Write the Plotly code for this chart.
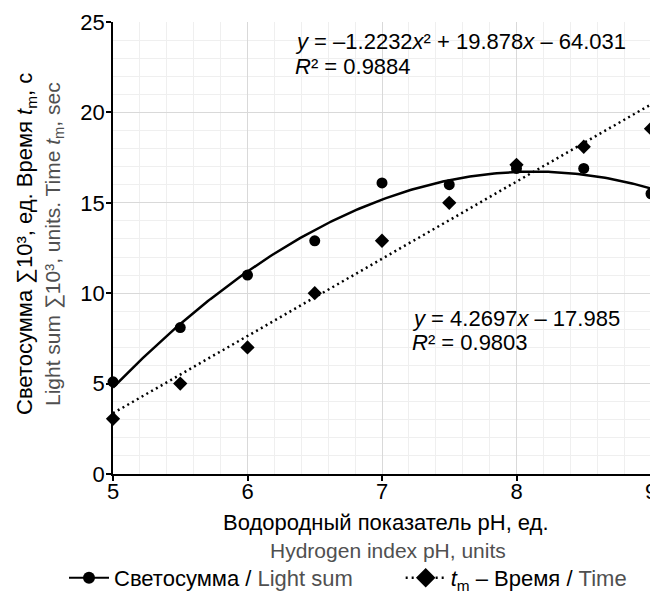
import numpy as np
import plotly.graph_objects as go

# Data
ph = [5, 5.5, 6, 6.5, 7, 7.5, 8, 8.5, 9]
light_sum = [5.1, 8.1, 11.0, 12.9, 16.1, 16.0, 16.9, 16.9, 15.5]
time_tm = [3.05, 5.0, 7.0, 10.0, 12.9, 15.0, 17.1, 18.1, 19.1]

# Trendline coefficients (as printed on the chart)
quad_coef = [-1.2232, 19.878, -64.031]
lin_coef = [4.2697, -17.985]

x_ticks = [5, 6, 7, 8, 9]
y_ticks = [0, 5, 10, 15, 20, 25]

FONT = "Liberation Sans, Arial, sans-serif"
GRAY = "#505050"
NB = "\u00a0"

xf = np.linspace(min(ph), max(ph), 200)
yq = np.polyval(quad_coef, xf)
yl = np.polyval(lin_coef, xf)

fig = go.Figure()

# trendlines
fig.add_trace(go.Scatter(x=xf, y=yq, mode="lines", line=dict(color="black", width=2.5),
                         showlegend=False, hoverinfo="skip"))
fig.add_trace(go.Scatter(x=xf, y=yl, mode="lines",
                         line=dict(color="black", width=2.5, dash="2px,3.5px"),
                         showlegend=False, hoverinfo="skip"))
# data points
fig.add_trace(go.Scatter(x=ph, y=light_sum, mode="markers",
                         marker=dict(symbol="circle", size=11, color="black"),
                         showlegend=False, cliponaxis=False))
fig.add_trace(go.Scatter(x=ph, y=time_tm, mode="markers",
                         marker=dict(symbol="diamond", size=11, color="black"),
                         showlegend=False, cliponaxis=False))

# legend entries
fig.add_trace(go.Scatter(x=[None], y=[None], mode="lines+markers",
                         line=dict(color="black", width=2),
                         marker=dict(symbol="circle", size=12, color="black"),
                         name="Светосумма / <span style='color:%s'>Light sum</span>%s" % (GRAY, NB * 7)))
fig.add_trace(go.Scatter(x=[None], y=[None], mode="lines+markers",
                         line=dict(color="black", width=2.5, dash="2px,4px"),
                         marker=dict(symbol="diamond", size=15, color="black"),
                         name="<i>t</i><sub>m</sub> – Время / <span style='color:%s'>Time</span>" % GRAY))


def py(ywin):
    return (474 - ywin) / 452


def px(xwin):
    return (xwin - 113) / 538


# page has an 8px body offset: the figure is sized so the page does not overflow
# the window, and the margins put the plot area at window x 113..651, y 22..474
fig.update_layout(
    width=650, height=588,
    margin=dict(l=105, r=7, t=14, b=122, autoexpand=False),
    paper_bgcolor="white", plot_bgcolor="white",
    font=dict(family=FONT, color="black", size=22),
    legend=dict(orientation="h", x=px(64), xanchor="left", y=py(578), yanchor="middle",
                font=dict(size=22), itemwidth=40, tracegroupgap=0,
                bgcolor="rgba(0,0,0,0)"),
    xaxis=dict(range=[5, 9], tickvals=x_ticks, ticks="outside", ticklen=5, tickwidth=1.5,
               tickcolor="black", showline=True, linecolor="black", linewidth=1.5,
               gridcolor="#d9d9d9", gridwidth=1, zeroline=False, automargin=False,
               tickfont=dict(size=22, family=FONT), ticklabelstandoff=-8,
               ticklabeloverflow="allow",
               minor=dict(dtick=0.2, showgrid=True, gridcolor="#efefef", gridwidth=1)),
    yaxis=dict(range=[0, 25], tickvals=y_ticks, ticks="outside", ticklen=5, tickwidth=1.5,
               tickcolor="black", showline=True, linecolor="black", linewidth=1.5,
               gridcolor="#d9d9d9", gridwidth=1, zeroline=False, automargin=False,
               tickfont=dict(size=22, family=FONT), ticklabelstandoff=-3,
               ticklabeloverflow="allow",
               minor=dict(dtick=1, showgrid=True, gridcolor="#efefef", gridwidth=1)),
)

annotations = [
    dict(x=px(293), y=py(42), xanchor="left", yanchor="middle",
         text="<i>y</i> = –1.2232<i>x</i>² + 19.878<i>x</i> – 64.031", font=dict(size=22)),
    dict(x=px(293), y=py(66), xanchor="left", yanchor="middle",
         text="<i>R</i>² = 0.9884", font=dict(size=22)),
    dict(x=px(410), y=py(318), xanchor="left", yanchor="middle",
         text="<i>y</i> = 4.2697<i>x</i> – 17.985", font=dict(size=22)),
    dict(x=px(410), y=py(342), xanchor="left", yanchor="middle",
         text="<i>R</i>² = 0.9803", font=dict(size=22)),
    # x-axis title
    dict(x=px(386), y=py(522), xanchor="center", yanchor="middle",
         text="Водородный показатель pH, ед.", font=dict(size=22)),
    dict(x=px(388), y=py(550), xanchor="center", yanchor="middle",
         text="Hydrogen index pH, units", font=dict(size=21, color=GRAY)),
    # y-axis title
    dict(x=px(26), y=py(244), xanchor="center", yanchor="middle", textangle=-90,
         text="Светосумма ∑10³, ед. Время <i>t</i><sub>m</sub>, с", font=dict(size=22)),
    dict(x=px(54), y=py(244), xanchor="center", yanchor="middle", textangle=-90,
         text="Light sum ∑10³, units. Time <i>t</i><sub>m</sub>, sec",
         font=dict(size=21, color=GRAY)),
]
fig.update_layout(annotations=[dict(a, showarrow=False, xref="paper", yref="paper")
                               for a in annotations])

fig.write_html("out.html", default_width="650px", default_height="588px")
